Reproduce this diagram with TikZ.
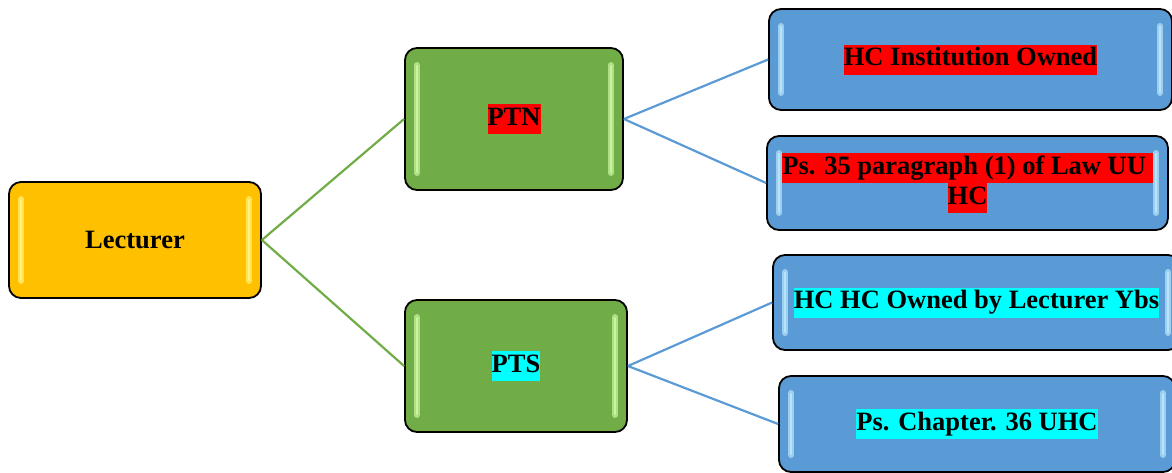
\documentclass[tikz,border=0pt]{standalone}
\usepackage{fontspec}
\setmainfont{Liberation Serif}
\usepackage{xcolor}
\definecolor{gold}{HTML}{FFC000}
\definecolor{goldhi}{HTML}{FFF27A}
\definecolor{leaf}{HTML}{70AD47}
\definecolor{leafhi}{HTML}{C8F5A0}
\definecolor{sky}{HTML}{5B9BD5}
\definecolor{skyhi}{HTML}{B8E4FA}
\definecolor{hlred}{HTML}{FF0000}
\definecolor{hlcyan}{HTML}{00FFFF}
\newcommand{\hlR}[1]{{\setlength{\fboxsep}{0pt}\colorbox{hlred}{\strut #1}}}
\newcommand{\hlC}[1]{{\setlength{\fboxsep}{0pt}\colorbox{hlcyan}{\strut #1}}}
\tikzset{
  glossbox/.style n args={4}{
    draw=black, line width=1.8pt, rounded corners=12pt, fill=#1,
    minimum width=#3, minimum height=#4, inner sep=0pt, align=center,
    font=\fontsize{26.5}{30}\selectfont\bfseries,
    path picture={
      \draw[line width=6pt, #2!70!#1, line cap=round]
        ([xshift=12pt,yshift=-17pt]path picture bounding box.north west) --
        ([xshift=12pt,yshift=17pt]path picture bounding box.south west);
      \draw[line width=2.5pt, #2, line cap=round]
        ([xshift=12pt,yshift=-18pt]path picture bounding box.north west) --
        ([xshift=12pt,yshift=18pt]path picture bounding box.south west);
      \draw[line width=6pt, #2!70!#1, line cap=round]
        ([xshift=-12pt,yshift=-17pt]path picture bounding box.north east) --
        ([xshift=-12pt,yshift=17pt]path picture bounding box.south east);
      \draw[line width=2.5pt, #2, line cap=round]
        ([xshift=-12pt,yshift=-18pt]path picture bounding box.north east) --
        ([xshift=-12pt,yshift=18pt]path picture bounding box.south east);
    }
  },
  gline/.style={draw=leaf, line width=2.2pt},
  bline/.style={draw=sky, line width=2.2pt}
}
\begin{document}
\begin{tikzpicture}[x=1pt,y=1pt]
\useasboundingbox (0,0) rectangle (1172,-472);
\clip (0,0) rectangle (1172,-472);
\node[glossbox={gold}{goldhi}{252pt}{116pt}] (lect) at (135,-240) {Lecturer};
\node[glossbox={leaf}{leafhi}{218pt}{142pt}] (ptn) at (514,-119) {\hlR{PTN}};
\node[glossbox={leaf}{leafhi}{222pt}{132pt}] (pts) at (516,-366) {\hlC{PTS}};
\node[glossbox={sky}{skyhi}{403pt}{101pt}] (hc1) at (970.5,-59.5) {\hlR{HC Institution Owned}};
\node[glossbox={sky}{skyhi}{401pt}{94pt}] (hc2) at (967.5,-183) {\hlR{Ps. 35 paragraph (1) of Law UU }\\\hlR{HC}};
\node[glossbox={sky}{skyhi}{407pt}{95pt}] (hc3) at (976.5,-302.5) {\hlC{HC HC Owned by Lecturer Ybs}};
\node[glossbox={sky}{skyhi}{396pt}{96pt}] (hc4) at (977,-424) {\hlC{Ps. Chapter. 36 UHC}};
\draw[gline] (lect.east) -- (ptn.west);
\draw[gline] (lect.east) -- (pts.west);
\draw[bline] (ptn.east) -- (hc1.west);
\draw[bline] (ptn.east) -- (hc2.west);
\draw[bline] (pts.east) -- (hc3.west);
\draw[bline] (pts.east) -- (hc4.west);
\end{tikzpicture}
\end{document}
